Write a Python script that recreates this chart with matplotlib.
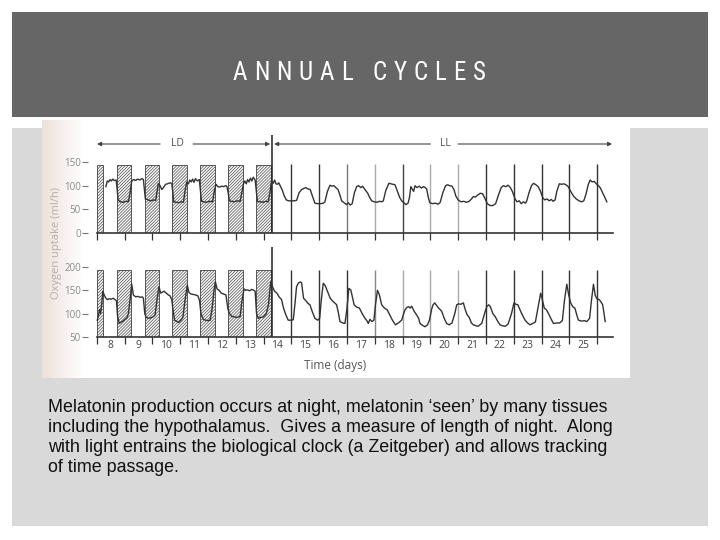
import numpy as np
import matplotlib
matplotlib.use("Agg")
import matplotlib.pyplot as plt
from matplotlib.patches import Rectangle

# ---- data (time in days, oxygen uptake in ml/h) ----
top_t = [8.33, 8.38, 8.43, 8.48, 8.53, 8.58, 8.63, 8.70, 8.74, 8.77, 8.85, 8.95, 9.05, 9.14, 9.20,
         9.26, 9.33, 9.40, 9.47, 9.55, 9.62, 9.68, 9.72, 9.75, 9.85, 9.95, 10.05, 10.12, 10.18,
         10.22, 10.28, 10.34, 10.40, 10.48, 10.55, 10.62, 10.70, 10.74, 10.77, 10.85, 10.95, 11.05,
         11.12, 11.18, 11.24, 11.30, 11.35, 11.40, 11.45, 11.50, 11.55, 11.62, 11.69, 11.73, 11.77,
         11.85, 11.95, 12.05, 12.17, 12.22, 12.29, 12.36, 12.42, 12.50, 12.57, 12.63, 12.68, 12.73,
         12.77, 12.85, 12.95, 13.05, 13.16, 13.22, 13.28, 13.33, 13.38, 13.43, 13.48, 13.53, 13.58,
         13.63, 13.70, 13.74, 13.78, 13.88, 13.98, 14.08, 14.17, 14.23, 14.29,
         14.35, 14.40, 14.45, 14.50, 14.55, 14.60, 14.68, 14.75, 14.82, 14.90, 15.00, 15.10, 15.19,
         15.28, 15.37, 15.45, 15.52, 15.60, 15.68, 15.76, 15.85, 15.95, 16.05, 16.15, 16.21, 16.30,
         16.39, 16.46, 16.53, 16.60, 16.68, 16.75, 16.81, 16.90, 16.98, 17.05, 17.12, 17.19, 17.27,
         17.35, 17.42, 17.50, 17.56, 17.65, 17.75, 17.82, 17.89, 17.98, 18.08, 18.18, 18.25, 18.31,
         18.40, 18.51, 18.58, 18.65, 18.73, 18.82, 18.90, 18.97, 19.05, 19.12, 19.20, 19.25, 19.30,
         19.36, 19.40, 19.45, 19.52, 19.60, 19.68, 19.75, 19.82, 19.87, 19.93, 19.98, 20.08, 20.18,
         20.28, 20.35, 20.45, 20.55, 20.62, 20.70, 20.78, 20.85, 20.92, 21.00, 21.10, 21.20, 21.30,
         21.40, 21.48, 21.55, 21.62, 21.70, 21.80, 21.88, 21.95, 22.05, 22.15, 22.25, 22.35, 22.45,
         22.55, 22.63, 22.72, 22.80, 22.88, 22.95, 23.05, 23.12, 23.20, 23.27, 23.35, 23.42, 23.47,
         23.55, 23.64, 23.71, 23.80, 23.88, 23.95, 24.05, 24.12, 24.20, 24.28, 24.35, 24.42, 24.49,
         24.55, 24.64, 24.72, 24.80, 24.88, 24.96, 25.05, 25.15, 25.25, 25.35, 25.45, 25.52, 25.60,
         25.68, 25.75, 25.82, 25.90, 25.97, 26.05, 26.12, 26.20, 26.28, 26.35]
top_v = [98, 110, 108, 113, 110, 114, 111, 112, 90, 70, 66, 65, 67, 66, 85,
         110, 113, 111, 114, 112, 115, 113, 90, 72, 70, 68, 70, 69, 90,
         105, 100, 92, 96, 103, 104, 106, 105, 85, 66, 65, 64, 66,
         65, 90, 108, 104, 112, 108, 114, 107, 115, 110, 113, 90, 67,
         66, 65, 67, 66, 85, 103, 98, 97, 99, 98, 100, 99, 85,
         68, 67, 66, 68, 67, 85, 104, 110, 104, 113, 108, 116, 110,
         118, 112, 90, 67, 66, 65, 67, 66, 85, 110,
         105, 112, 104, 103, 106, 100, 90, 78, 70, 68, 68, 68, 69,
         85, 92, 94, 96, 93, 92, 78, 63, 62, 62, 63, 66, 88,
         101, 99, 100, 96, 92, 80, 68, 64, 60, 64, 59, 62, 85,
         98, 100, 96, 99, 92, 84, 75, 68, 66, 65, 67, 66, 68,
         90, 105, 104, 103, 102, 88, 75, 68, 64, 60, 63, 75, 98,
         92, 88, 100, 96, 99, 95, 98, 96, 93, 75, 64, 62, 63,
         61, 64, 85, 100, 102, 100, 99, 92, 78, 70, 66, 67, 65,
         67, 72, 77, 76, 80, 84, 83, 75, 62, 58, 58, 62, 80,
         96, 100, 98, 101, 96, 88, 72, 66, 68, 62, 66, 63, 68,
         85, 100, 105, 102, 98, 90, 74, 70, 72, 68, 71, 67, 70,
         88, 104, 103, 104, 102, 98, 88, 78, 72, 68, 66, 68, 82,
         102, 112, 108, 109, 104, 100, 95, 85, 75, 66]

bot_t = [8.02, 8.06, 8.10, 8.14, 8.18, 8.22, 8.27, 8.32, 8.38, 8.45, 8.52, 8.60, 8.66, 8.71, 8.75,
         8.81, 8.88, 8.95, 9.02, 9.08, 9.14, 9.20, 9.26, 9.32, 9.40, 9.48, 9.56, 9.64, 9.68, 9.73,
         9.78, 9.86, 9.94, 10.02, 10.10, 10.17, 10.24, 10.30, 10.36, 10.42, 10.50, 10.58, 10.64,
         10.70, 10.74, 10.80, 10.87, 10.94, 11.02, 11.10, 11.18, 11.26, 11.32, 11.40, 11.48, 11.56,
         11.64, 11.70, 11.75, 11.83, 11.92, 12.00, 12.08, 12.15, 12.22, 12.27, 12.33, 12.40, 12.48,
         12.56, 12.65, 12.72, 12.78, 12.86, 12.95, 13.05, 13.16, 13.22, 13.30, 13.36, 13.42, 13.50,
         13.58, 13.65, 13.70, 13.75, 13.82, 13.90, 14.00, 14.10, 14.18, 14.26,
         14.32, 14.40, 14.48, 14.56, 14.65, 14.72, 14.80, 14.89, 14.98, 15.07, 15.13, 15.19, 15.25,
         15.32, 15.37, 15.44, 15.52, 15.60, 15.67, 15.75, 15.85, 15.95, 16.02, 16.08, 16.15, 16.22,
         16.30, 16.40, 16.50, 16.58, 16.63, 16.70, 16.75, 16.85, 16.93, 17.00, 17.07, 17.14, 17.20,
         17.26, 17.35, 17.45, 17.55, 17.65, 17.72, 17.77, 17.83, 17.90, 17.97, 18.03, 18.10, 18.17,
         18.25, 18.35, 18.45, 18.55, 18.62, 18.67, 18.75, 18.85, 18.97, 19.03, 19.09, 19.15, 19.22,
         19.28, 19.33, 19.42, 19.50, 19.58, 19.63, 19.72, 19.81, 19.90, 19.97, 20.05, 20.10, 20.16,
         20.22, 20.30, 20.41, 20.50, 20.59, 20.68, 20.78, 20.88, 20.95, 21.02, 21.10, 21.19, 21.25,
         21.32, 21.40, 21.48, 21.55, 21.65, 21.72, 21.85, 21.95, 22.03, 22.10, 22.16, 22.25, 22.33,
         22.42, 22.51, 22.60, 22.70, 22.80, 22.92, 23.01, 23.08, 23.15, 23.25, 23.33, 23.41, 23.50,
         23.59, 23.68, 23.78, 23.88, 23.97, 24.03, 24.10, 24.18, 24.27, 24.35, 24.43, 24.55, 24.65,
         24.75, 24.83, 24.91, 24.98, 25.05, 25.12, 25.20, 25.28, 25.33, 25.45, 25.55, 25.63, 25.73,
         25.80, 25.87, 25.93, 25.99, 26.08, 26.14, 26.20, 26.25, 26.29]
bot_v = [86, 95, 109, 100, 120, 148, 140, 134, 130, 132, 131, 133, 130, 128, 95,
         79, 82, 84, 88, 90, 100, 130, 163, 140, 136, 137, 135, 136, 133, 100,
         92, 90, 91, 93, 97, 130, 158, 144, 146, 148, 144, 140, 138,
         130, 110, 86, 84, 81, 85, 92, 130, 161, 145, 142, 141, 140,
         138, 128, 100, 88, 86, 85, 86, 110, 150, 168, 153, 150, 144,
         142, 140, 110, 100, 94, 93, 92, 94, 125, 153, 150, 151, 149,
         152, 150, 148, 100, 90, 92, 93, 100, 120, 168,
         158, 148, 144, 136, 130, 112, 98, 86, 86, 87, 120, 158, 165,
         168, 166, 133, 128, 122, 119, 105, 90, 86, 90, 130, 165, 160,
         148, 133, 126, 122, 119, 100, 83, 80, 79, 110, 154, 151, 135,
         119, 114, 112, 100, 90, 85, 79, 88, 83, 86, 120, 150, 140,
         119, 112, 108, 96, 88, 83, 76, 80, 86, 98, 108, 113, 115,
         112, 116, 105, 98, 90, 79, 75, 72, 76, 86, 110, 119, 123,
         118, 112, 105, 90, 79, 76, 80, 100, 119, 121, 120, 123, 110,
         98, 92, 80, 76, 74, 73, 79, 100, 115, 119, 115, 100, 94,
         84, 76, 74, 73, 78, 100, 123, 120, 119, 105, 95, 86, 80,
         76, 79, 82, 115, 144, 130, 112, 108, 98, 88, 79, 80, 80,
         85, 130, 163, 140, 123, 115, 112, 95, 86, 84, 85, 83, 90,
         130, 163, 140, 132, 130, 125, 119, 100, 83]

# dark periods (hatched) in the LD part
night_start = [8.00, 8.72, 9.72, 10.72, 11.73, 12.74, 13.74]
night_end = [8.23, 9.23, 10.23, 11.24, 12.24, 13.25, 14.27]
switch_day = 14.29
ll_lines = [15, 16, 17, 18, 19, 20, 21, 22, 23, 24, 25, 26]
top_line_colors = ['#333', '#333', '#777', '#aaa', '#444', '#aaa', '#aaa', '#333', '#333', '#333', '#333', '#333']
bot_line_colors = ['#333', '#333', '#333', '#888', '#aaa', '#aaa', '#aaa', '#333', '#333', '#333', '#333', '#333']
day_labels = list(range(8, 26))

W, H = 720, 540


def fx(px):
    return px / W


def fy(py):
    return 1 - py / H


plt.rcParams['hatch.linewidth'] = 0.55

fig = plt.figure(figsize=(7.2, 5.4), dpi=100)
fig.patch.set_facecolor('white')

# slide background pieces
fig.add_artist(Rectangle((fx(12), fy(117)), fx(696), 105 / H, transform=fig.transFigure,
                         facecolor='#666666', edgecolor='none', zorder=-3))
fig.add_artist(Rectangle((fx(12), fy(526)), fx(696), 398 / H, transform=fig.transFigure,
                         facecolor='#d9d9d9', edgecolor='none', zorder=-3))
fig.add_artist(Rectangle((fx(42), fy(378)), fx(588), 258 / H, transform=fig.transFigure,
                         facecolor='white', edgecolor='none', zorder=-2))

# faded left edge of the scanned figure
gax = fig.add_axes([fx(42), fy(378), fx(42), 258 / H])
grad = np.zeros((2, 64, 4))
grad[..., 0] = 0.89
grad[..., 1] = 0.82
grad[..., 2] = 0.78
grad[..., 3] = np.linspace(0.65, 0.0, 64)[None, :]
gax.imshow(grad, aspect='auto', extent=(0, 1, 0, 1))
gax.axis('off')
gax.set_zorder(-1)

# title with letter spacing
title_kw = dict(color='white', fontsize=18, family=['Roboto Condensed', 'Roboto', 'DejaVu Sans'])
renderer = fig.canvas.get_renderer()
title = "ANNUAL CYCLES"
widths = []
for ch in title:
    if ch == ' ':
        widths.append(6.0)
        continue
    t = fig.text(0, 0, ch, **title_kw)
    widths.append(t.get_window_extent(renderer).width)
    t.remove()
target_w = 253
gap = (target_w - sum(widths)) / (len(title) - 1)
x = 359 - target_w / 2
for ch, w in zip(title, widths):
    if ch != ' ':
        fig.text(fx(x), fy(80), ch, ha='left', va='baseline', **title_kw)
    x += w + gap

# chart axes: pixel mapping x = 96.7 + (d - 8) * 27.8
x_left = 8 + (88 - 96.7) / 27.8
x_right = 8 + (614 - 96.7) / 27.8
chart_font = ['Open Sans', 'DejaVu Sans']

ax1 = fig.add_axes([fx(88), fy(233), fx(526), 103 / H])
ax2 = fig.add_axes([fx(88), fy(337), fx(526), 92 / H])
ax1.set_ylim(0, 103 / 0.473)
ax2.set_ylim(50, 50 + 92 / 0.467)

for ax, lo, hi, ticks, colors in [(ax1, 0, 144, [0, 50, 100, 150], top_line_colors),
                                  (ax2, 50, 193, [50, 100, 150, 200], bot_line_colors)]:
    ax.set_facecolor('none')
    ax.set_xlim(x_left, x_right)
    for s in ['top', 'right', 'left']:
        ax.spines[s].set_visible(False)
    ax.spines['bottom'].set_bounds(8, 26.56)
    ax.spines['bottom'].set_linewidth(1.2)
    ax.spines['bottom'].set_color('#333')
    ax.bar(night_start, hi - lo, width=np.array(night_end) - np.array(night_start), bottom=lo,
           align='edge', facecolor='white', edgecolor='#555', hatch='///////////', linewidth=0.7, zorder=1)
    ax.vlines(ll_lines, lo, hi + 1, colors=colors, linewidth=1.0, zorder=2)
    ax.set_yticks(ticks)
    ax.set_yticklabels([str(v) for v in ticks], color='#8a8a8a', fontsize=7, family=chart_font)
    ax.tick_params(axis='y', length=4, width=0.8, color='#777', pad=1)
    ax.set_xticks(range(8, 27))
    ax.set_xticklabels([])
    ax.tick_params(axis='x', which='major', length=5, width=0.9, color='#333', direction='out')

ax1.plot(top_t, top_v, color='#333', linewidth=1.0, zorder=3)
ax2.plot(bot_t, bot_v, color='#333', linewidth=1.0, zorder=3)

ax1.vlines([switch_day], 0, (233 - 135) / 0.473, colors='#222', linewidth=1.1, zorder=2)
ax2.vlines([switch_day], 50, 243, colors='#222', linewidth=1.1, zorder=2)

ax2.set_xticks([d + 0.5 for d in day_labels], minor=True)
ax2.set_xticklabels([str(d) for d in day_labels], minor=True, fontsize=7.5, color='#444', family=chart_font)
ax2.tick_params(axis='x', which='minor', length=0, pad=2)

# LD / LL arrows
arrow_y = (233 - 144) / 0.473
arr = dict(arrowstyle='-|>', color='#444', lw=0.8, mutation_scale=6, shrinkA=0, shrinkB=0)
ax1.annotate('', xy=(8.01, arrow_y), xytext=(10.28, arrow_y), arrowprops=arr, annotation_clip=False)
ax1.annotate('', xy=(14.24, arrow_y), xytext=(11.47, arrow_y), arrowprops=arr, annotation_clip=False)
ax1.annotate('', xy=(14.38, arrow_y), xytext=(20.0, arrow_y), arrowprops=arr, annotation_clip=False)
ax1.annotate('', xy=(26.54, arrow_y), xytext=(21.0, arrow_y), arrowprops=arr, annotation_clip=False)
ax1.text(10.89, arrow_y, 'LD', ha='center', va='center', fontsize=7.5, color='#555', family=chart_font)
ax1.text(20.53, arrow_y, 'LL', ha='center', va='center', fontsize=7.5, color='#555', family=chart_font)

fig.text(fx(57), fy(243), 'Oxygen uptake (ml/h)', rotation=90, ha='center', va='center',
         fontsize=8, color='#b9aca9', family=chart_font)
fig.text(fx(335), fy(365), 'Time (days)', ha='center', va='center', fontsize=8.5,
         color='#555', family=chart_font)

body = ("Melatonin production occurs at night, melatonin \u2018seen\u2019 by many tissues\n"
        "including the hypothalamus.  Gives a measure of length of night.  Along\n"
        "with light entrains the biological clock (a Zeitgeber) and allows tracking\n"
        "of time passage.")
fig.text(fx(48), fy(399), body, ha='left', va='top', fontsize=12.9, color='#111',
         family='Liberation Sans', linespacing=1.23)

fig.savefig('out.png', dpi=100)
